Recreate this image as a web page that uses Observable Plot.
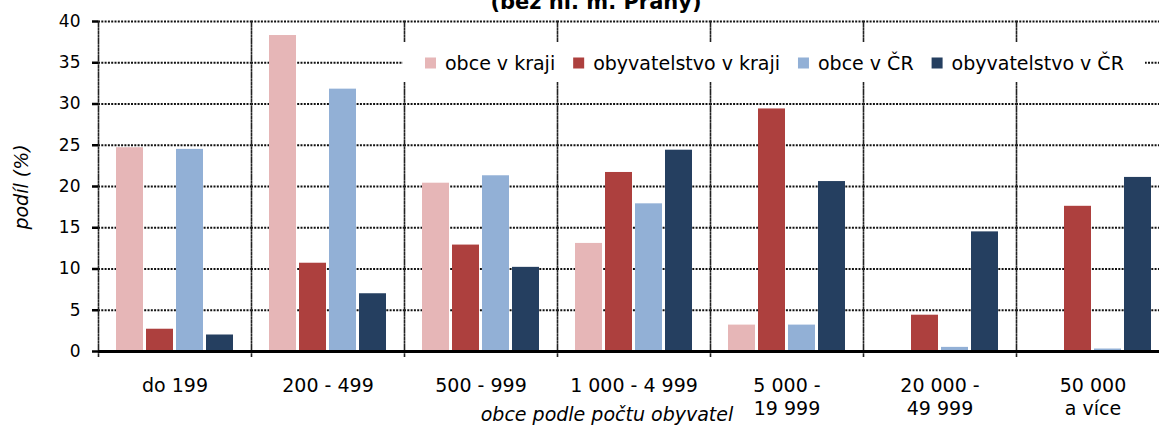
<!DOCTYPE html>
<html>
<head>
<meta charset="utf-8">
<script src="https://cdn.jsdelivr.net/npm/d3@7"></script>
<script src="https://cdn.jsdelivr.net/npm/@observablehq/plot@0.6"></script>
<style>
  html, body { margin: 0; padding: 0; background: #fff; overflow: hidden; }
  #wrap { position: relative; width: 1159px; height: 427px; overflow: hidden; font-family: "DejaVu Sans", sans-serif; }
  #wrap > svg { max-width: none !important; }
  #wrap > svg.overlay { position: absolute; left: 0; top: 0; pointer-events: none; }
</style>
</head>
<body>
<div id="wrap"></div>
<script>
// ---- data ----
const categories = ["do 199", "200 - 499", "500 - 999", "1 000 - 4 999", "5 000 - 19 999", "20 000 - 49 999", "50 000 a více"];
const categoryLabels = ["do 199", "200 - 499", "500 - 999", "1 000 - 4 999", "5 000 -\n19 999", "20 000 -\n49 999", "50 000\na více"];
const seriesNames = ["obce v kraji", "obyvatelstvo v kraji", "obce v ČR", "obyvatelstvo v ČR"];
const seriesColors = ["#e6b6b7", "#ad403e", "#92b0d6", "#253f60"];
const obceVKraji = [24.7, 38.3, 20.4, 13.1, 3.2, 0, 0];
const obyvatelstvoVKraji = [2.7, 10.7, 12.9, 21.7, 29.4, 4.4, 17.6];
const obceVCR = [24.5, 31.8, 21.3, 17.9, 3.2, 0.5, 0.3];
const obyvatelstvoVCR = [2.0, 7.0, 10.2, 24.4, 20.6, 14.5, 21.1];
const yTicks = [0, 5, 10, 15, 20, 25, 30, 35, 40];
const titleText = "(bez hl. m. Prahy)";
const yTitle = "podíl (%)";
const xTitle = "obce podle počtu obyvatel";

const seriesValues = [obceVKraji, obyvatelstvoVKraji, obceVCR, obyvatelstvoVCR];
const data = [];
categories.forEach((c, i) => {
  seriesNames.forEach((s, j) => data.push({category: c, series: s, value: seriesValues[j][i]}));
});

const dottedH = {stroke: "#111", strokeWidth: 2, strokeDasharray: "2,1.3"};
const dottedV = {stroke: "#222", strokeWidth: 1.6, strokeDasharray: "1.6,1.8"};

const chart = Plot.plot({
  width: 1170,
  height: 427,
  marginLeft: 96,
  marginRight: 0,
  marginTop: 21,
  marginBottom: 76,
  style: {fontFamily: "DejaVu Sans, sans-serif", fontSize: "17px", background: "transparent", overflow: "visible", color: "#000", maxWidth: "none"},
  fx: {domain: categories, padding: 0, axis: null},
  x: {domain: seriesNames, paddingInner: 0.1, paddingOuter: 0.58, axis: null},
  y: {domain: [0, 40]},
  color: {domain: seriesNames, range: seriesColors},
  marks: [
    Plot.ruleY(yTicks.filter(d => d > 0), dottedH),
    Plot.frame({anchor: "left", insetBottom: -6, ...dottedV}),
    Plot.barY(data, {fx: "category", x: "series", y: "value", fill: "series"}),
    Plot.ruleY([0], {stroke: "#000", strokeWidth: 3}),
    Plot.axisY({ticks: yTicks, tickSize: 6, tickPadding: 12, fontSize: 17, label: null, line: true, stroke: "#000", strokeWidth: 2.5, tickFormat: d => String(d)}),
    Plot.text(categories, {
      fx: d => d,
      text: (d, i) => categoryLabels[i],
      frameAnchor: "bottom",
      lineAnchor: "top",
      dy: 23,
      fontSize: 19,
      lineHeight: 1.26,
      fill: "#000"
    })
  ]
});

chart.style.maxWidth = "none";
chart.style.width = "1170px";
chart.style.height = "427px";
chart.style.display = "block";

const wrap = document.getElementById("wrap");
wrap.appendChild(chart);

// ---- overlay: title, axis titles, legend ----
const color = chart.scale("color");
const ov = d3.select(wrap).append("svg")
  .attr("class", "overlay")
  .attr("width", 1159).attr("height", 427)
  .style("font-family", "DejaVu Sans, sans-serif");

ov.append("text")
  .attr("x", 596).attr("y", 9)
  .attr("text-anchor", "middle")
  .attr("font-weight", "bold")
  .attr("font-size", 21)
  .text(titleText);

ov.append("text")
  .attr("transform", "translate(28,187) rotate(-90)")
  .attr("text-anchor", "middle")
  .attr("font-style", "italic")
  .attr("font-size", 19)
  .text(yTitle);

ov.append("text")
  .attr("x", 607).attr("y", 421)
  .attr("text-anchor", "middle")
  .attr("font-style", "italic")
  .attr("font-size", 19)
  .text(xTitle);

const lg = ov.append("g");
lg.append("rect").attr("x", 403).attr("y", 42).attr("width", 742).attr("height", 40).attr("fill", "#fff");
let lx = 425;
color.domain.forEach((name, i) => {
  lg.append("rect").attr("x", lx).attr("y", 57.5).attr("width", 11).attr("height", 11).attr("fill", color.range[i]);
  const t = lg.append("text").attr("x", lx + 20).attr("y", 69.5).attr("font-size", 19).attr("fill", "#000").text(name);
  const w = t.node().getComputedTextLength();
  lx = lx + 20 + w + 18;
});
</script>
</body>
</html>
